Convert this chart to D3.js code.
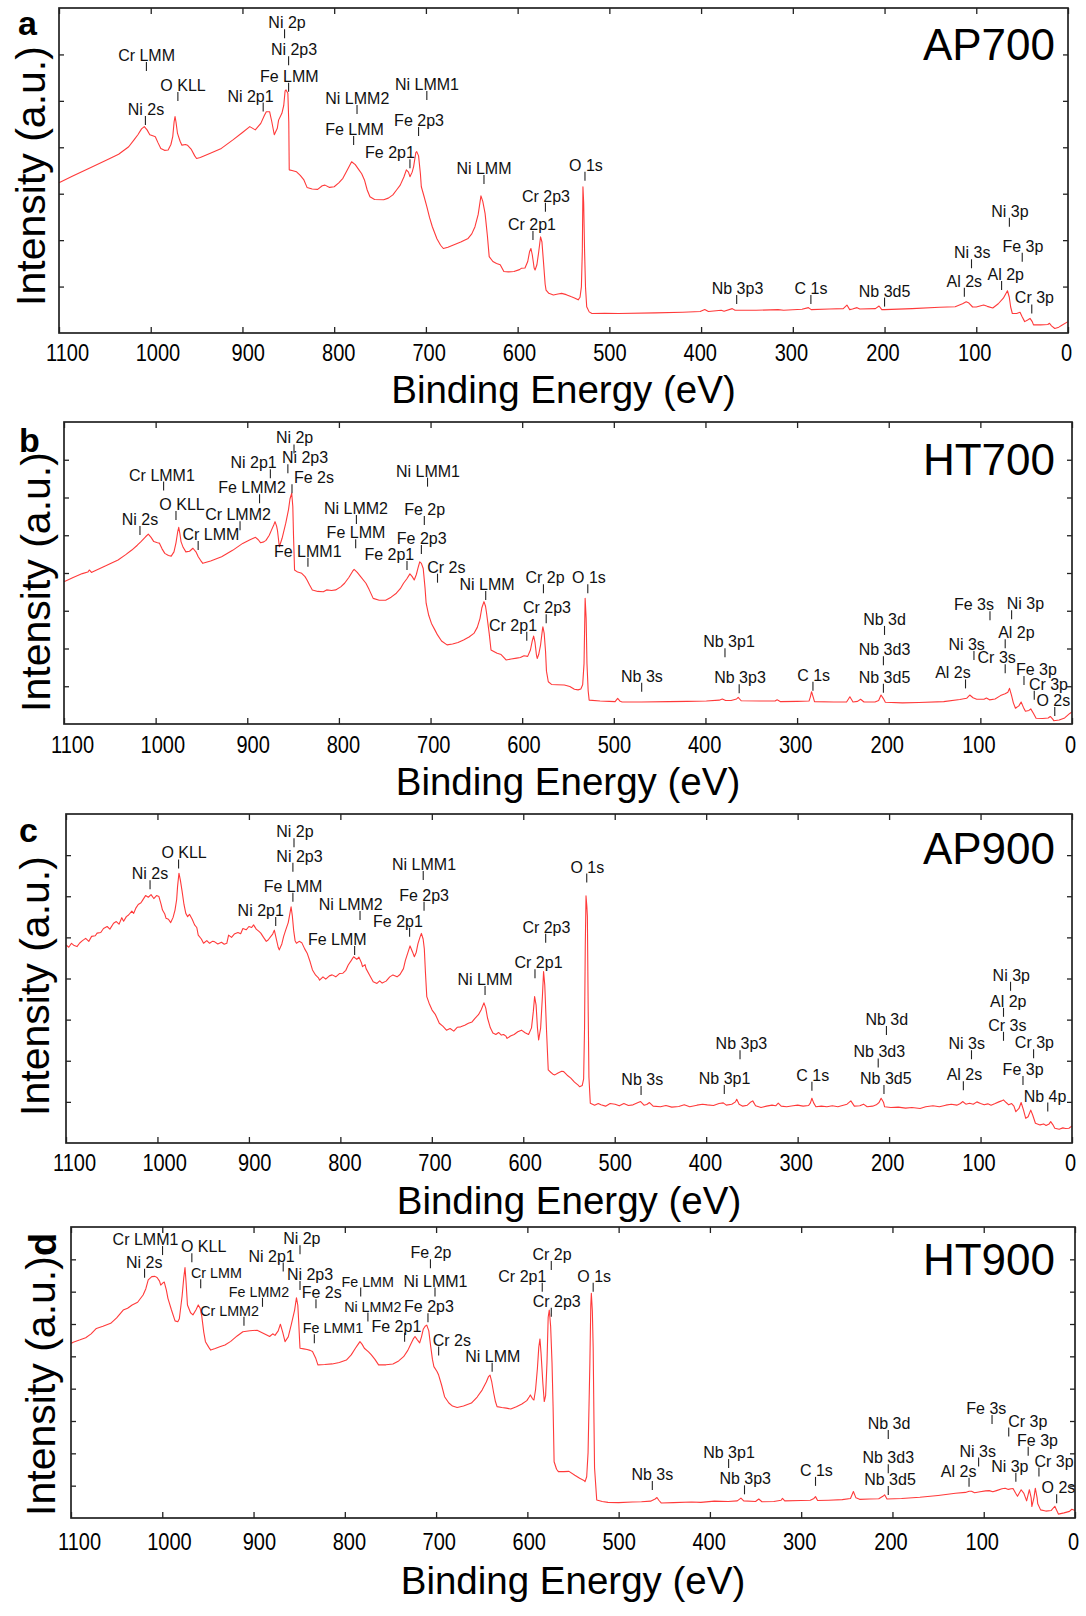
<!DOCTYPE html>
<html><head><meta charset="utf-8">
<script src="https://cdn.jsdelivr.net/npm/d3@7"></script>
<style>
body{margin:0;background:#fff;}
svg{display:block;font-family:"Liberation Sans",Arial,Helvetica,sans-serif;}
</style></head><body>
<svg id="chart" width="1086" height="1616"></svg>
<script>
// ---------------- DATA ----------------
const xTickValues = [1100,1000,900,800,700,600,500,400,300,200,100,0];
const sampleNames = ["AP700","HT700","AP900","HT900"];
const panelLetters = ["a","b","c","d"];
const yIntervals = [7,8,8,9];
const xTitle = "Binding Energy (eV)";
const yTitle = "Intensity (a.u.)";

// spectra: [binding energy (eV), intensity (% of frame height)]
const spectrumA = [[1100,46.2],[1085,48.3],[1067,50.7],[1048,53.2],[1035,55],[1024,57.3],[1018,59.5],[1014,61],[1010,62.8],[1007,63.5],[1004,62.5],[1001,61],[997,60.6],[995,60.4],[992,58.5],[989,56.8],[985,56.2],[981,56.3],[978,58],[976,60.4],[974.5,65],[973.5,66.6],[972.5,65],[970.8,61.4],[968,59],[966,57.8],[962,58],[960,57.8],[956,56.6],[952,54.5],[950,53.7],[946,54],[935,55.3],[923,56.8],[910,59.5],[900,61.7],[892,63.5],[886,62.5],[880,64.5],[876,67],[874,68.1],[870.4,68.1],[868,65],[865.3,61],[862,63],[860.6,65.5],[857,67.6],[855,70],[853.5,74.5],[852.5,74.8],[850.5,73.8],[849.5,65],[849,50.2],[846,50],[841,49.6],[837,48.5],[833,47.1],[829.6,44.8],[824,44.3],[818,44.2],[813,45.3],[810,45.5],[805,44.8],[800,45],[795,46.2],[790.5,47.6],[786,50],[781,52.7],[777,51.8],[773,50.2],[770,49],[767,47.1],[764,44],[761,41.9],[756,41.1],[746,41],[741,41.5],[736,42.5],[732,44],[728,45.5],[724,48],[721.3,50.2],[719,49.5],[717.4,48.1],[715,49.5],[713.4,51.2],[711,55.5],[710,55.8],[708,54.5],[706,49],[705,45],[702,42],[699,38.9],[696,35.5],[693,32.7],[688,29],[684,27],[681,26],[676,26.4],[670,27.1],[662,28],[654,29.1],[650,30.5],[646.5,32.7],[643,36.5],[640,42.2],[638,40.5],[635.5,36.8],[633,30],[631,23.5],[627,22],[623,21.4],[619,21],[615,18.9],[610,18.8],[604,18.9],[598,19.5],[596,19.9],[592,20],[589,22],[587,25],[585.5,26],[584,24],[582,20],[581,19.4],[579,21],[577,25],[575,29.6],[573.5,28],[572,22.5],[570,15],[569,13.2],[566,12.2],[561,11.7],[556,12],[552,12.2],[547,11.8],[542,11.2],[538,10.8],[534,10.2],[532,11],[530.5,14.2],[529.5,25],[528.8,45],[528,40],[527,25],[526,14],[524.7,8.1],[522,6.5],[519,6],[505,6.1],[490,6],[450,6.2],[420,6.4],[401,6.6],[396,7.2],[392,6.6],[378,7],[375,6.7],[366,7.5],[363,7],[340,7],[316,7.2],[310,7],[290,7.3],[283,7.8],[280,7.2],[260,7.4],[245,7.5],[241,8.6],[238,7.2],[235,7.4],[230,7.8],[227,7.4],[210,7.5],[206,8.3],[203,7.2],[200,7.2],[170,7.5],[140,7.9],[123,8.1],[115,9],[111,9.6],[108,9.2],[104,8],[100,8],[92,8.6],[88,8.2],[82,7.7],[76,9],[70.5,10.7],[66,13],[64,11],[62.5,8],[60.7,6],[56,6],[52.3,6.4],[50,5],[47.2,3.5],[44,4],[41.4,4.5],[39,3.5],[37.6,2.5],[30,2.5],[22,2.6],[20.2,3],[18,2.2],[14.4,1.4],[10,1.8],[6.7,2.4],[0,3.5]];

const spectrumB = [[1100,47.1],[1090,48.5],[1080,49.8],[1074,50.3],[1072.4,51],[1070,50.2],[1068.5,50.4],[1055,52.3],[1041,54.3],[1033,56],[1026,57.6],[1020,59.2],[1016,60.4],[1011,62],[1008,62.9],[1005,61.8],[1002,60.4],[998,60],[996,59.9],[993,58],[990,56.5],[986,55.8],[983,55.6],[980,57],[977.8,60],[976,63.5],[974.8,65.1],[973.5,63],[972.3,60.4],[970,58.5],[967,57],[963,57.2],[959.3,58.2],[956,57],[953.5,55.4],[951,54.2],[948.5,53.2],[940,54],[928,55.4],[916,57.5],[905,59.8],[897,61],[891,61.8],[888,61],[885.4,60],[882,60.3],[879.6,60.8],[876,62.5],[873.6,64.2],[871,66],[869.7,67],[868,65.5],[867,64],[865,58.7],[862,61.5],[858,66.5],[855,71],[853.4,74.5],[851.5,76.4],[850.3,72],[849.5,62],[848.4,51],[845,50.3],[840.6,49.9],[837,48.8],[834.8,47.7],[832,46],[829,44.4],[823,43.9],[817,43.8],[813.4,44.4],[808,44.2],[803.6,44.4],[798,45.4],[793.8,46.6],[789,48.6],[785,50.6],[783.4,51.2],[780,50.2],[776.3,48.8],[770.5,46.6],[767,44.5],[762.6,41.6],[756,41],[749,41],[743,42],[737.3,43.3],[733,44.8],[729.5,46.6],[726,48],[722.5,49.7],[720,48.8],[717.8,47.7],[715.5,49.5],[713.8,51.5],[711.8,53.7],[710,53.2],[708,51.5],[706,45],[704.8,40],[702,36],[699,33.3],[695,31],[692.4,29.5],[688,27.5],[682,26.2],[676,26.5],[670,27],[664,27.8],[658,28.8],[652.7,30],[649,32],[646,35],[644,38.5],[641.7,40.5],[640,39],[639,37],[636,30],[634,24.5],[631,24],[627.3,23.4],[623,23],[621.4,22.5],[617.6,21.2],[612,21.5],[606,21.8],[602,22],[598,22.6],[594,22.4],[591,24.5],[589,27.5],[587.5,29.1],[586,27],[584.5,23],[583.6,21.7],[582,23],[580,26],[578,31],[577.4,32.2],[576,30],[574.5,24],[573.5,17.5],[571.5,14],[568,13.1],[562,13],[554,12.9],[548,12.4],[543,11.5],[539,11.3],[536,11.6],[534,13],[532.5,20],[531.3,41.6],[530.2,35],[529.3,20],[528,11],[526.9,7.9],[515,7.6],[505,7.5],[498.6,7.4],[495.8,8.5],[493,7.5],[491,7.3],[470,7.3],[440,7.4],[420,7.5],[399,7.6],[385,7.9],[381.6,8.3],[378,7.8],[372,7.8],[366,8.3],[364.3,8.8],[361,7.7],[340,7.6],[324,7.6],[321.8,8],[318,7.4],[300,7.5],[287,7.6],[285.5,9],[284.2,10.7],[282.5,9],[281,7.4],[260,7.3],[246,7.3],[242.4,9],[239,7.3],[234,7.5],[230.7,8.2],[227,7.3],[215,7.3],[211,7.8],[208.4,9.6],[206,8.5],[203.7,7.2],[185,7],[167,7.1],[140,7.4],[122.4,8.1],[115,8.5],[111.6,9.6],[108,8.7],[104,8.2],[96,8.2],[93.4,8.6],[90,8],[84,8.3],[78,9.4],[73,10],[70,10.5],[68.2,11.8],[66,9.5],[64,7],[61.7,5.2],[58,6],[55.5,7.3],[53,5.5],[50.8,4.2],[47,4.5],[45,5],[42,3.5],[39.2,1.9],[32,1.8],[26,2],[23.7,2.5],[21,1.6],[19.9,1.1],[14,1.3],[8,2],[2.4,3.5],[0,4]];

const spectrumC = [[1100,60.2],[1097,59.5],[1094,60.7],[1091,60],[1088,59.7],[1085,60.8],[1082,61.5],[1078.5,62.2],[1075,61.3],[1072,62.8],[1068,63],[1066,63.8],[1062,64],[1059,65.2],[1055,65.8],[1052,65],[1048,66.8],[1045,67.3],[1042,66.5],[1039,68.5],[1037,67.4],[1034,68.8],[1031.6,69.3],[1028,70.5],[1026,69.8],[1023.8,71.3],[1021,72.5],[1018,73],[1016,73.9],[1013,75.2],[1010,74.7],[1007,75.5],[1004,74.3],[1001,75.2],[998.4,74.9],[996,72.5],[994.5,70.8],[992,69.6],[990.6,68.3],[988,68],[985.5,67],[983,68.5],[980.8,70.8],[979,74],[978,78],[976.5,82],[975,80],[973,76.4],[971,72.5],[969,69.8],[967,68.8],[965,69.5],[962,68],[959.4,66.3],[957,65.5],[955.4,63.2],[952,62],[949.6,60.7],[946,61.5],[943,60.7],[940,61.3],[937.8,61.2],[934,60.5],[930,61],[927,60.4],[924.2,60.7],[922.2,63.2],[919,62.5],[916,63.5],[912,64],[909,63.6],[906.6,65.2],[903,64.8],[900,65.8],[897,65.5],[894.9,66.3],[892,65],[889,64.3],[887,63.8],[884,62.5],[881,61.3],[879,61.7],[876,62.8],[874,63.5],[872.2,64.7],[870,62],[868,59.5],[866.8,58.7],[864,60.5],[862,62.8],[859.8,64.7],[857,67],[855,70],[853.9,71.8],[852.5,69],[851.1,64.7],[849.5,61.5],[848,60.7],[845,61.3],[842.2,60.9],[839,59],[836.3,57.7],[833,55],[830.5,52.6],[827,51],[824,50.2],[822.7,49.5],[819,50.5],[816,49.8],[812,50.8],[809,51.1],[805,50.5],[801,51.5],[797.2,51.6],[794,52.5],[791.4,54.1],[788,55.5],[785.5,56.6],[782,55.8],[779.7,56.5],[777,54.8],[775.8,53.6],[773,54.2],[771.9,53],[768,51],[764.1,49],[760,48.5],[757,49.3],[754.3,48.6],[750,49.2],[746,50.5],[742.5,51.1],[738,50.5],[734.8,51.2],[731,53],[728.9,55.5],[726,58],[723.8,59.9],[721,58],[719.1,56.6],[717,58],[715.2,60.5],[713,62.5],[711.4,63.7],[709.5,62],[708.2,59],[707,52],[705.5,44.5],[703,42.5],[699.7,40.4],[696,39],[691.8,36.4],[688,35.5],[684,34.3],[680,34.8],[676,34],[672,35.2],[668.4,35.3],[664,35.8],[660,36.4],[656,36.8],[652.8,37.9],[649,39],[646,40.5],[643,42.6],[641,41],[639.1,38],[636,35],[633.2,33.4],[630,33],[627,33.6],[624,32.8],[621.5,33],[619,32.5],[617.7,31.8],[614,32.5],[610,33],[606,33.8],[602,34.3],[598,33.5],[594.2,33],[591,35],[589,40],[587.6,44.5],[586,42],[584.5,35],[583.2,31.3],[581,35],[579,45],[577.8,52.1],[576.5,48],[574.7,35],[572.7,22.2],[570,21.5],[567,20.8],[565.5,20.7],[562,21.3],[558,21.8],[555.8,21.7],[552,20.6],[548,19.7],[544,18.5],[540,17.6],[538.4,17.1],[535.5,17.5],[534,19.5],[533,35],[532.2,60],[531.4,75.1],[530.5,72],[529.9,68.8],[529,40],[528.2,20],[526.7,12.1],[522,11.5],[518,12],[515.1,11.6],[510,11.2],[505,12],[499.6,11.8],[495,11.3],[490,12],[485,11.4],[480,11.6],[475,12.2],[471.7,12.6],[468,11.5],[465,11.7],[462,12.3],[458,11.2],[450,11],[444,11.4],[437.6,10.9],[430,11.1],[424,11.6],[418,11],[410,11.5],[404,11.8],[398.8,11.6],[392,11.4],[386,12],[381.3,12.2],[378,11.5],[372,11.8],[368,12.5],[366.6,13.3],[364,11.8],[360,11.2],[355,11.5],[352,12.3],[349.1,12.8],[346,11.3],[340,10.8],[334,11.2],[328,11.5],[324,11.3],[321.2,12.1],[318,11.2],[312,11],[305,11.3],[300,11.5],[294,11.2],[288,11.4],[286,12.2],[284.4,13.6],[282.5,12.2],[280,11],[274,11.2],[268,11],[262,11.3],[256,11],[250,11.5],[246,11.8],[241.8,12.8],[238,11.2],[232,11.3],[228,11.8],[224,11],[218,11.2],[214,11.6],[211,12.3],[208.7,13.6],[206,12.3],[204.9,11],[198,10.8],[190,10.9],[182,10.6],[175,10.8],[166.1,10.5],[160,11],[152,11.3],[145,11],[138,11.5],[132,11.8],[126,11.5],[122,12],[119.6,12.6],[116,11.8],[112,12.1],[108,11.8],[104,12.5],[100,12],[96,11.6],[92,11.9],[88.5,11.5],[84,12],[80,12.5],[77,12.8],[75,13.1],[72,12.3],[69.2,11.6],[66,12],[63.5,11.2],[61.4,9.5],[58,10.5],[55.6,12.3],[53,10],[50.6,7.5],[48,8],[45.1,10],[43,8.5],[40,6],[35,5.5],[31,5.8],[28.4,5.3],[25,5.8],[23.3,6.5],[21,5.6],[18.8,4.5],[14,4.2],[10,4.6],[7.1,4.4],[3.3,4.5],[0,5.2]];

const spectrumD = [[1100,61.3],[1097.6,61.7],[1090,62.5],[1083.9,63.2],[1078,64.5],[1072.2,66.3],[1065,67],[1056.5,68],[1050,69.8],[1042.8,72.4],[1038,73],[1033,74.1],[1027,75],[1021,77.4],[1018,79.5],[1015.4,82.4],[1011.5,83.5],[1008,83.6],[1005.7,83.2],[1003,82],[1001.7,80.7],[999,81.5],[997.8,81.7],[995.5,79],[993.8,76.3],[990,72.5],[986,68.8],[983,68.5],[981.3,69.5],[979.5,74],[978.3,77],[976.5,83],[975.1,86.5],[974,82],[972.4,74.1],[969,71.5],[966.4,70.8],[963,72.5],[960.6,74.1],[958.5,73],[956.7,70.3],[954.5,65],[952.7,61.9],[949,60],[946.9,59.1],[942,59.6],[937,60.2],[931.3,60.8],[925,62],[918,63.8],[911.7,65.2],[904,65.5],[896.1,65.7],[890,64.8],[885,64],[882.4,63.6],[879,64.5],[876.5,64],[873,65.5],[870.6,67.7],[868,65],[865.5,61.9],[862,63.5],[858.8,67.4],[855,72.4],[853,76.5],[851.5,74],[850.6,69],[849.5,62],[849.1,59.7],[845,59.5],[841.3,59.3],[838,59],[835.4,58.6],[832,56.5],[829.5,54.2],[822,54.3],[813.9,54.5],[806,55],[798.3,55.8],[793,57.5],[788.4,59.7],[785.5,61],[783.4,61.9],[781,61],[778.6,59.7],[774,58.5],[770.9,57.5],[767,56],[763,54.2],[755,54.2],[747.3,54.5],[741,55.5],[735.6,56.9],[731,59],[727.8,61],[725,62.8],[723.1,63.6],[720.5,62.5],[718,61.5],[716,63.5],[714.1,66],[712,67],[710.2,67.4],[708,65.5],[706.2,61],[704,56],[702.4,53.6],[699,52],[697.2,50.8],[694,47.5],[690.7,43.6],[686,41.5],[682,40.5],[676.9,40],[670,40.5],[661.3,41.5],[655,43.5],[649.6,45.8],[645,48.5],[642.5,50.3],[640.9,50.8],[639,48.5],[637,45],[635,42],[633.2,40.3],[628,40],[623,39.8],[618.2,39.5],[612,40.3],[606,41.2],[600.6,42.3],[598,43.5],[596.7,44.2],[594.5,43],[592.8,42.5],[591,46],[589,53],[587.5,60],[586.2,62.8],[585,58],[583,48],[581.5,42],[580,44],[578.5,55],[577.2,70],[576,72.4],[574.5,67],[573,55],[571.8,40],[570.7,22],[568,19.5],[566,18.7],[560,18.7],[554.4,18.8],[548,17.5],[542.7,16.5],[538,15.8],[536.8,15.4],[535,17],[533.5,25],[531.5,55],[530.5,74],[529.9,78],[528.8,72],[527.9,60],[527,35],[526.4,20],[524,9.3],[518,8.8],[511.6,8.5],[500,8.4],[485,8.6],[475,8.7],[465,8.9],[460,9.6],[458,10.1],[456,9.2],[453.4,8.3],[440,8.4],[420,8.6],[410,8.5],[395.1,8.9],[380,8.8],[370,9],[366,9.9],[363,9],[350,8.8],[346.5,9.6],[343,8.7],[330,8.8],[322,9.2],[320.5,9.8],[318,9.0],[300,9.1],[290,9.2],[286,9.8],[284.3,10.4],[282,9.1],[270,9.2],[255,9.4],[246,9.8],[242.8,12.1],[240,10],[236,9.5],[225,9.6],[215,9.7],[210.5,10.5],[208.6,11],[206,9.6],[190,9.8],[170,10.2],[150,10.8],[130.9,11.5],[120,11.8],[116,12.2],[113.4,12.2],[110,11.7],[104,12],[98,12.3],[94,12.4],[90,12],[86,12.4],[80,13],[76.5,13.2],[73,12.8],[70,13],[67.9,13.1],[65,11.5],[63,10.5],[59,12.7],[56,11.5],[53,9],[50,12.7],[48,10],[47.3,7.1],[45,10],[43.5,13.2],[41.5,10],[40.8,8],[37.7,6],[32,5.6],[26,5.8],[22.1,7.2],[20,5.8],[18.2,4.6],[12,5],[6,5.5],[3.5,6.2],[0,5.8]];

// peak labels: [text, tick energy, label-centre energy, label level (% of frame height)]
const peaksA = [["Cr LMM",1004.7,1004.5,83.7],["Ni 2s",1005.8,1005.2,67.1],["O KLL",970.4,964.8,74.5],["Ni 2p1",877.4,891.2,71.2],["Ni 2p",854.1,851.4,93.8],["Ni 2p3",849.7,843.8,85.5],["Fe LMM",849.7,848.9,77.3],["Ni LMM2",775.1,774.8,70.5],["Fe LMM",778.8,777.8,60.9],["Ni LMM1",699,698.8,74.8],["Fe 2p3",708,707.5,63.7],["Fe 2p1",717.4,739.2,53.8],["Ni LMM",636.7,636.7,48.9],["Cr 2p3",569.7,569.1,40.4],["Cr 2p1",583.3,584.4,31.7],["O 1s",526.6,525.5,49.9],["Nb 3p3",361.2,360.3,12],["C 1s",280.3,280.2,12],["Nb 3d5",200,200,11.2],["Al 2s",113,113,14.2],["Ni 3s",105.2,104.4,23],["Al 2p",72.4,67.9,16.3],["Fe 3p",49.9,49.1,25],["Ni 3p",63.9,63.3,35.8],["Cr 3p",39.5,36.6,9.1]];

const peaksB = [["Cr LMM1",991.3,993.1,80.6],["Ni 2s",1017.1,1017.1,65.9],["O KLL",977.8,971.2,70.9],["Cr LMM2",907.9,910.1,67.5],["Cr LMM",953.6,939.6,60.9],["Ni 2p1",874.8,893.1,84.7],["Fe LMM2",886.6,894.8,76.4],["Ni 2p",849,848.4,92.9],["Ni 2p3",855.7,837,86.3],["Fe 2s",851.2,827.2,79.7],["Fe LMM1",833.8,834,55.4],["Ni LMM2",780.9,781.4,69.5],["Fe LMM",781.7,781.4,61.5],["Ni LMM1",703.3,702.8,81.9],["Fe 2p",706.8,706.5,69.2],["Fe 2p3",710,709.6,59.6],["Fe 2p1",725.7,745,54.3],["Cr 2s",692.4,682.7,50.1],["Ni LMM",639.8,638.4,44.4],["Cr 2p1",595,610,30.9],["Cr 2p3",573.8,572.9,36.7],["Cr 2p",576.8,575.1,46.6],["O 1s",528.4,527.1,46.6],["Nb 3s",469.6,469.3,14],["Nb 3p1",378.7,374.3,25.4],["Nb 3p3",363.2,362.3,13.5],["C 1s",282.7,281.9,14.3],["Nb 3d",204.6,204.6,32.8],["Nb 3d3",205.8,204.6,22.8],["Nb 3d5",205.8,204.6,13.7],["Fe 3s",89.5,107,37.7],["Ni 3s",107,115,24.5],["Al 2s",116.2,129.9,15.1],["Ni 3p",65.9,50.9,38],["Al 2p",72.9,60.7,28.4],["Cr 3s",72.9,82.2,20.1],["Fe 3p",52.4,38.8,16.2],["Cr 3p",41.2,25.7,11.3],["O 2s",18.8,20.4,6]];

const peaksC = [["Ni 2s",1008.1,1008.1,80.2],["O KLL",976.9,970.9,86.5],["Ni 2p",850.7,849.6,92.9],["Ni 2p3",851.9,844.7,85.5],["Fe LMM",851.9,851.8,76.4],["Ni 2p1",870.7,887.1,69],["Ni LMM2",778.5,788.7,70.8],["Fe LMM",784.4,803.3,60.2],["Ni LMM1",709.4,708.5,83],["Fe 2p3",708.5,708.5,73.6],["Fe 2p1",724.3,737,65.7],["Ni LMM",641.8,641.8,48],["Cr 2p1",587.2,583.3,53.1],["Cr 2p3",575.5,574.7,63.9],["O 1s",530.6,529.9,82.2],["Nb 3s",471.2,469.9,17.6],["Nb 3p3",363,361.5,28.5],["Nb 3p1",380.2,379.9,17.9],["C 1s",284.4,283.4,18.9],["Nb 3d",202.9,202.5,35.9],["Nb 3d3",211.9,210.7,26],["Nb 3d5",205.6,203.6,17.9],["Ni 3s",109.9,115.1,28.5],["Al 2s",118.8,117.6,19.1],["Ni 3p",67.2,66.4,49.3],["Al 2p",74.9,69.7,41.4],["Cr 3s",74.9,70.7,34.1],["Cr 3p",42,41.1,28.8],["Fe 3p",53.6,53.5,20.7],["Nb 4p",26.5,29.5,12.6]];

const peaksD = [["Cr LMM1",999.7,1018.4,94],["Ni 2s",1019.4,1019.7,86.5],["O KLL",967.6,954.7,91.6],["Cr LMM",957.9,940.7,83],["Fe LMM2",890.2,894,76.8],["Cr LMM2",910.5,926.3,70.5],["Ni 2p1",867.5,880.2,88.5],["Ni 2p",849.1,847.1,94.3],["Ni 2p3",849.1,838.1,82.4],["Fe 2s",831.6,825.4,76.3],["Fe LMM",782.6,774.9,80.2],["Ni LMM2",774.7,769.4,71.9],["Fe LMM1",833.4,812.9,64.7],["Fe 2p",706.2,705.6,89.6],["Ni LMM1",701.2,700.7,80.2],["Fe 2p3",708.9,707.8,71.7],["Fe 2p1",734.5,743.5,65.2],["Cr 2s",697.2,682.8,60.6],["Ni LMM",638.6,637.9,55.2],["Cr 2p1",583.7,605.5,81.8],["Cr 2p",573.8,573,89],["Cr 2p3",573.8,567.8,73.5],["O 1s",527.9,526.8,81.8],["Nb 3s",463.1,463.1,15.9],["Nb 3p1",379.5,379.1,23.2],["Nb 3p3",362.1,361.3,14.5],["C 1s",284.3,283.3,17.3],["Nb 3d",204.6,203.8,32.9],["Nb 3d3",204.6,204.6,21.5],["Nb 3d5",204.6,202.7,14.3],["Fe 3s",90.9,97.2,37.9],["Cr 3p",72.6,51.8,33.7],["Fe 3p",51.3,41.1,27.3],["Ni 3s",105.6,106.6,23.7],["Al 2s",116.1,127.5,17],["Ni 3p",64.8,71.4,18.7],["Cr 3p",39.5,23,20.4],["O 2s",20.1,18.1,11.5]];

// intensity-axis lower limits (frame bottom) per panel
const yMins = [0,0,0,3.3];

// ---------------- LAYOUT / STYLE ----------------
const layout = [
  {L:59, R:1068, T:8,    B:333,  tickBase:361,  titleBase:403,  yTitleX:45, yTitleC:176,  letterX:18, letterY:35,  nameY:60},
  {L:64, R:1072, T:422,  B:724,  tickBase:753,  titleBase:795,  yTitleX:50, yTitleC:582,  letterX:19, letterY:452, nameY:475},
  {L:66, R:1072, T:814,  B:1143, tickBase:1171, titleBase:1214, yTitleX:49, yTitleC:986,  letterX:19, letterY:842, nameY:864},
  {L:71, R:1075, T:1227, B:1518, tickBase:1550, titleBase:1594, yTitleX:55, yTitleC:1386, letterX:null, letterY:null, nameY:1275}
];
const smallLabelSets = [[],[],[],[3,4,5,10,11,12]];
const spectra = [spectrumA, spectrumB, spectrumC, spectrumD];
const peakSets = [peaksA, peaksB, peaksC, peaksD];
const labelScale = 0.87;

const svg = d3.select("#chart");
svg.append("rect").attr("width",1086).attr("height",1616).attr("fill","#fff");

spectra.forEach((spec, i) => {
  const lay = layout[i];
  const x = d3.scaleLinear().domain([1100, 0]).range([lay.L, lay.R]);
  const y = d3.scaleLinear().domain([yMins[i], 100]).range([lay.B, lay.T]);
  const g = svg.append("g");
  const n = yIntervals[i];
  const yTicks = d3.range(1, n).map(k => yMins[i] + k * (100 - yMins[i]) / n);

  // spectrum
  g.append("path").datum(spec)
    .attr("fill","none").attr("stroke","#ff3a3a").attr("stroke-width",1.1)
    .attr("stroke-linejoin","round")
    .attr("d", d3.line().x(d => x(d[0])).y(d => y(d[1])));

  // axes (inward ticks)
  const axB = g.append("g").attr("transform",`translate(0,${lay.B})`)
    .call(d3.axisBottom(x).tickValues(xTickValues).tickFormat(d3.format("d"))
      .tickSizeInner(-6).tickSizeOuter(0).tickPadding(lay.tickBase - lay.B - 16.3));
  axB.selectAll("text").attr("font-size",23).attr("fill","#000")
     .attr("font-family","'Liberation Sans',Arial,sans-serif")
     .attr("x", d => Math.max(-2, (d - 500) / 75) / labelScale)
     .attr("transform",`scale(${labelScale},1)`);
  g.append("g").attr("transform",`translate(0,${lay.T})`)
    .call(d3.axisTop(x).tickValues(xTickValues).tickSizeInner(-6).tickSizeOuter(0).tickFormat(""));
  g.append("g").attr("transform",`translate(${lay.L},0)`)
    .call(d3.axisLeft(y).tickValues(yTicks).tickSizeInner(-5).tickSizeOuter(0).tickFormat(""));
  g.append("g").attr("transform",`translate(${lay.R},0)`)
    .call(d3.axisRight(y).tickValues(yTicks).tickSizeInner(-5).tickSizeOuter(0).tickFormat(""));
  g.selectAll(".domain").remove();
  g.selectAll(".tick line").attr("stroke","#222").attr("stroke-width",1.3);

  // frame
  g.append("rect").attr("x",lay.L).attr("y",lay.T)
    .attr("width",lay.R-lay.L).attr("height",lay.B-lay.T)
    .attr("fill","none").attr("stroke","#222").attr("stroke-width",1.7);

  // peak labels
  const small = new Set(smallLabelSets[i]);
  peakSets[i].forEach((p, j) => {
    const base = y(p[3]);
    g.append("text").attr("x", x(p[2])).attr("y", base)
      .attr("text-anchor","middle").attr("font-size", small.has(j) ? 14.3 : 16)
      .attr("fill","#111").text(p[0]);
    g.append("line").attr("x1", x(p[1])).attr("x2", x(p[1]))
      .attr("y1", base + 1).attr("y2", base + 10)
      .attr("stroke","#222").attr("stroke-width",1.1);
  });

  // sample name
  g.append("text").attr("x",1055).attr("y",lay.nameY).attr("text-anchor","end")
    .attr("font-size",44).attr("fill","#000").text(sampleNames[i]);

  // x title
  g.append("text").attr("x",(lay.L+lay.R)/2).attr("y",lay.titleBase).attr("text-anchor","middle")
    .attr("font-size",38.5).attr("fill","#000").text(xTitle);

  // y title
  const yt = g.append("text").attr("transform",`translate(${lay.yTitleX},${lay.yTitleC}) rotate(-90)`)
    .attr("text-anchor","middle").attr("font-size",41).attr("fill","#000").text(yTitle);

  // panel letter
  if (lay.letterX !== null) {
    g.append("text").attr("x",lay.letterX).attr("y",lay.letterY)
      .attr("font-size",34).attr("font-weight","bold").attr("fill","#000").text(panelLetters[i]);
  } else {
    const len = yt.node().getComputedTextLength();
    g.append("text").attr("transform",`translate(${lay.yTitleX+1},${lay.yTitleC - len/2}) rotate(-90)`)
      .attr("text-anchor","start").attr("font-size",38).attr("font-weight","bold").attr("fill","#000")
      .text(panelLetters[i]);
  }
});
</script>
</body></html>
